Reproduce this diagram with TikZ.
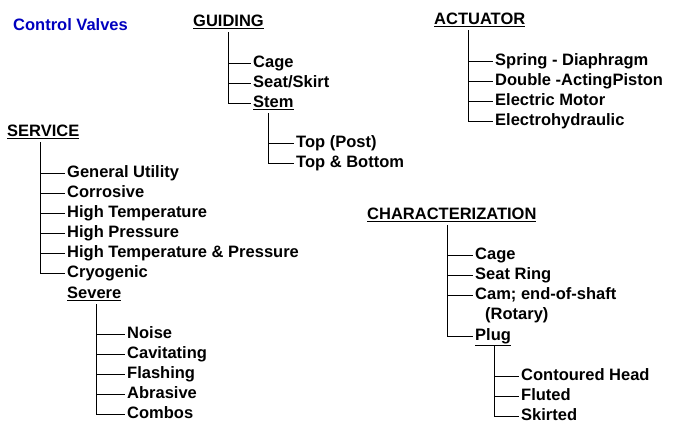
\documentclass[tikz,border=0pt]{standalone}
\usepackage{fontspec}
\setmainfont{Liberation Sans}
\usetikzlibrary{positioning}
\tikzset{
  item/.style={anchor=west, inner sep=2pt, text height=11.5pt, text depth=3.5pt,
    yshift=-1.5pt, font=\fontsize{16.5}{18}\selectfont\bfseries},
  head/.style={item},
  branch/.style={semithick}
}
\begin{document}
\begin{tikzpicture}[x=1pt, y=-1pt]
  \useasboundingbox (0,0) rectangle (690,432);
  \node [anchor=west, inner sep=0pt, blue!75!black, font=\fontsize{16.5}{18}\selectfont\bfseries] (title) at (13,25) {Control Valves};

  % guiding
  \node [head] (gd)   at (191,21)  {\underline{GUIDING}};
  \node [item] (gd1)  at (251,62)  {Cage};
  \node [item] (gd2)  at (251,82)  {Seat/Skirt};
  \node [item] (stem) at (251,102) {\underline{Stem}};
  \node [item] (st1)  at (294,142) {Top (Post)};
  \node [item] (st2)  at (294,162) {Top \& Bottom};
  \foreach \c in {gd1,gd2,stem}
    \draw [branch] ([xshift=37pt]gd.south west) |- (\c.west);
  \foreach \c in {st1,st2}
    \draw [branch] ([xshift=17pt]stem.south west) |- (\c.west);

  % actuator
  \node [head] (ac)  at (432,19)  {\underline{ACTUATOR}};
  \node [item] (ac1) at (493,60)  {Spring - Diaphragm};
  \node [item] (ac2) at (493,80)  {Double -ActingPiston};
  \node [item] (ac3) at (493,100) {Electric Motor};
  \node [item] (ac4) at (493,120) {Electrohydraulic};
  \foreach \c in {ac1,ac2,ac3,ac4}
    \draw [branch] ([xshift=36pt]ac.south west) |- (\c.west);

  % service
  \node [head] (sv)  at (5,131)  {\underline{SERVICE}};
  \node [item] (sv1) at (65,172) {General Utility};
  \node [item] (sv2) at (65,192) {Corrosive};
  \node [item] (sv3) at (65,212) {High Temperature};
  \node [item] (sv4) at (65,232) {High Pressure};
  \node [item] (sv5) at (65,252) {High Temperature \& Pressure};
  \node [item] (sv6) at (65,272) {Cryogenic};
  \node [item] (sev) at (65,293) {\underline{Severe}};
  \foreach \c in {sv1,sv2,sv3,sv4,sv5,sv6}
    \draw [branch] ([xshift=35pt]sv.south west) |- (\c.west);
  \node [item] (se1) at (125,333) {Noise};
  \node [item] (se2) at (125,353) {Cavitating};
  \node [item] (se3) at (125,373) {Flashing};
  \node [item] (se4) at (125,393) {Abrasive};
  \node [item] (se5) at (125,413) {Combos};
  \foreach \c in {se1,se2,se3,se4,se5}
    \draw [branch] ([xshift=31pt]sev.south west) |- (\c.west);

  % characterization
  \node [head] (ch)   at (365,214) {\underline{CHARACTERIZATION}};
  \node [item] (ch1)  at (473,254) {Cage};
  \node [item] (ch2)  at (473,274) {Seat Ring};
  \node [item] (ch3)  at (473,294) {Cam; end-of-shaft};
  \node [item] (ch3b) at (483,314) {(Rotary)};
  \node [item] (plug) at (473,335) {\underline{Plug}};
  \foreach \c in {ch1,ch2,ch3,plug}
    \draw [branch] ([xshift=82pt]ch.south west) |- (\c.west);
  \node [item] (pl1) at (519,375) {Contoured Head};
  \node [item] (pl2) at (519,395) {Fluted};
  \node [item] (pl3) at (519,415) {Skirted};
  \foreach \c in {pl1,pl2,pl3}
    \draw [branch] ([xshift=21pt]plug.south west) |- (\c.west);
\end{tikzpicture}
\end{document}
